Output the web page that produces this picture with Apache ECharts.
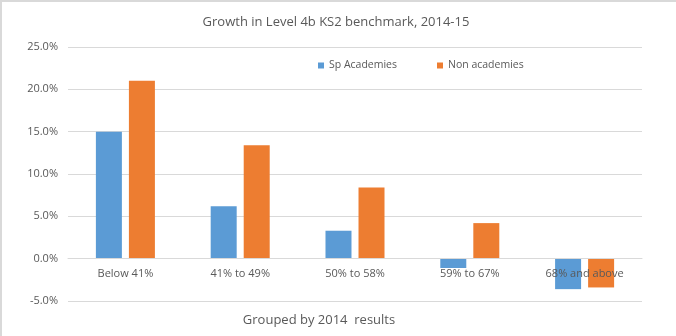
<!DOCTYPE html>
<html>
<head>
<meta charset="utf-8">
<script src="https://cdn.jsdelivr.net/npm/echarts@6/dist/echarts.min.js"></script>
<style>
html,body{margin:0;padding:0;background:#fff;}
#c{width:676px;height:336px;box-sizing:border-box;border-top:2px solid #d9d9d9;border-left:2px solid #d9d9d9;}
</style>
</head>
<body>
<div id="c"></div>
<script>
var categories = ['Below 41%', '41% to 49%', '50% to 58%', '59% to 67%', '68% and above'];
var spAcademies = [15.0, 6.2, 3.3, -1.1, -3.6];
var nonAcademies = [21.0, 13.4, 8.4, 4.2, -3.4];
var seriesNames = ['Sp Academies', 'Non academies'];
var titleText = 'Growth in Level 4b KS2 benchmark, 2014-15';
var xAxisTitle = 'Grouped by 2014  results';
var yMin = -5, yMax = 25, yStep = 5;

var el = document.getElementById('c');
var chart = echarts.init(el, null, {renderer: 'canvas'});
var font = 'Open Sans, Liberation Sans, sans-serif';
var gridTop = 45, gridBottom = 35;
var gridH = el.clientHeight - gridTop - gridBottom;
var zeroOffset = -gridH * (0 - yMin) / (yMax - yMin);

chart.setOption({
  animation: false,
  textStyle: {fontFamily: font},
  title: [{
    text: titleText,
    left: 329, top: 9, textAlign: 'center',
    textStyle: {fontSize: 13, fontWeight: 'normal', color: '#595959', fontFamily: font}
  }, {
    text: xAxisTitle,
    left: 312, top: 307, textAlign: 'center',
    textStyle: {fontSize: 13, fontWeight: 'normal', color: '#595959', fontFamily: font}
  }],
  legend: {
    data: seriesNames,
    left: 311, top: 53,
    itemWidth: 6, itemHeight: 6, itemGap: 40,
    icon: 'rect',
    textStyle: {fontSize: 10.5, color: '#595959', fontFamily: font}
  },
  grid: {left: 66, right: 34, top: gridTop, bottom: gridBottom, containLabel: false, outerBoundsMode: 'none'},
  xAxis: {
    type: 'category',
    data: categories,
    position: 'bottom',
    offset: zeroOffset,
    z: 5,
    axisLine: {onZero: false, lineStyle: {color: '#d9d9d9'}},
    axisTick: {show: false},
    axisLabel: {fontSize: 11, color: '#595959', margin: 10, fontFamily: font}
  },
  yAxis: {
    type: 'value',
    min: yMin, max: yMax, interval: yStep,
    axisLine: {show: false},
    axisTick: {show: false},
    splitLine: {lineStyle: {color: '#d9d9d9'}},
    axisLabel: {fontSize: 11, color: '#595959', margin: 10, fontFamily: font,
      formatter: function (v) { return v.toFixed(1) + '%'; }}
  },
  series: [
    {name: seriesNames[0], type: 'bar', data: spAcademies, barWidth: 26, barGap: '27%',
     itemStyle: {color: '#5b9bd5'}},
    {name: seriesNames[1], type: 'bar', data: nonAcademies, barWidth: 26, barGap: '27%',
     itemStyle: {color: '#ed7d31'}}
  ]
});
</script>
</body>
</html>
